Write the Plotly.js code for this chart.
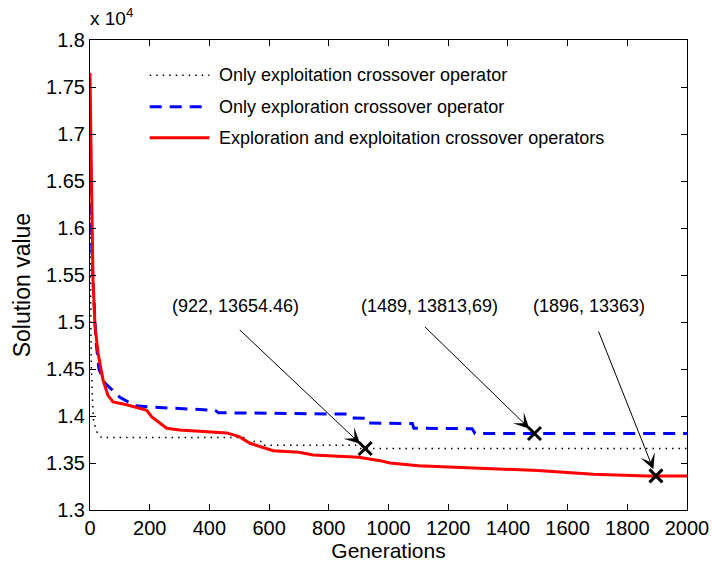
<!DOCTYPE html>
<html>
<head>
<meta charset="utf-8">
<script src="https://cdn.plot.ly/plotly-3.0.1.min.js"></script>
<style>html,body{margin:0;padding:0;background:#fff;}#chart{width:712px;height:568px;}</style>
</head>
<body>
<div id="chart"></div>
<script>
// Only exploitation crossover operator (black dotted)
const exploitGen = [0, 2, 4, 8, 12, 20, 30, 40, 520, 525, 580, 585, 890, 900, 2000];
const exploitVal = [16250, 15000, 14600, 14200, 13950, 13850, 13790, 13770, 13770, 13730, 13730, 13690, 13690, 13655, 13655];

// Only exploration crossover operator (blue dashed)
const exploreGen = [0, 3, 6, 10, 20, 30, 50, 100, 150, 200, 420, 430, 860, 870, 925, 930, 1080, 1085, 1280, 1290, 2000];
const exploreVal = [17330, 16500, 15800, 15450, 14800, 14500, 14350, 14200, 14110, 14096, 14060, 14035, 14020, 13980, 13975, 13925, 13920, 13870, 13865, 13814, 13814];

// Exploration and exploitation crossover operators (red solid)
const bothGen = [0, 2, 5, 10, 17, 27, 44, 60, 77, 123, 190, 207, 257, 300, 458, 500, 536, 614, 700, 748, 900, 972, 1005, 1100, 1296, 1500, 1686, 1866, 2000];
const bothVal = [17650, 17000, 16500, 15450, 14950, 14670, 14380, 14220, 14150, 14120, 14060, 13990, 13870, 13850, 13820, 13780, 13710, 13630, 13615, 13585, 13560, 13525, 13500, 13470, 13447, 13420, 13380, 13363, 13363];

// Highlighted points
const markGen = [922, 1489, 1896];
const markVal = [13654.46, 13813.69, 13363];
const markLabels = ["(922, 13654.46)", "(1489, 13813,69)", "(1896, 13363)"];

const seriesNames = ["Only exploitation crossover operator", "Only exploration crossover operator", "Exploration and exploitation crossover operators"];

const xTicks = [0, 200, 400, 600, 800, 1000, 1200, 1400, 1600, 1800, 2000];
const yTicks = [13000, 13500, 14000, 14500, 15000, 15500, 16000, 16500, 17000, 17500, 18000];
const yTickText = ["1.3", "1.35", "1.4", "1.45", "1.5", "1.55", "1.6", "1.65", "1.7", "1.75", "1.8"];

const FONT = "Liberation Sans, Arial, Helvetica, sans-serif";

const traces = [
  {x: exploitGen, y: exploitVal, mode: "lines", name: seriesNames[0], line: {color: "#000", width: 1.5, dash: "1.5px,5px"}},
  {x: exploreGen, y: exploreVal, mode: "lines", name: seriesNames[1], line: {color: "#0000ff", width: 3, dash: "12px,8px"}},
  {x: bothGen, y: bothVal, mode: "lines", name: seriesNames[2], line: {color: "#ff0000", width: 3}},
  {x: markGen, y: markVal, mode: "markers", name: "marks", marker: {symbol: "x-thin-open", size: 13, color: "#000", line: {width: 3, color: "#000"}}}
];

// manual legend
const legY = [0.925, 0.858, 0.792];
const legDash = ["1.5px,5px", "12px,8px", "solid"];
const legColor = ["#000", "#0000ff", "#ff0000"];
const legWidth = [1.5, 3, 3];
const shapes = [];
const annotations = [];
for (let i = 0; i < 3; i++) {
  shapes.push({type: "line", xref: "paper", yref: "paper", x0: 0.1, x1: 0.2, y0: legY[i], y1: legY[i],
    line: {color: legColor[i], width: legWidth[i], dash: legDash[i]}});
  annotations.push({xref: "paper", yref: "paper", x: 0.213, y: legY[i], xanchor: "left", yanchor: "middle",
    text: seriesNames[i], showarrow: false, font: {family: FONT, size: 18, color: "#000"}});
}
// labels and arrows
const labelX = [486, 1139, 1672];
const arrowOff = [[-127, -120], [-111, -108], [-58, -146]];
for (let i = 0; i < 3; i++) {
  annotations.push({x: labelX[i], y: 15170, xref: "x", yref: "y", text: markLabels[i], showarrow: false,
    font: {family: FONT, size: 18, color: "#000"}});
  annotations.push({x: markGen[i], y: markVal[i], xref: "x", yref: "y", text: "", showarrow: true,
    ax: arrowOff[i][0], ay: arrowOff[i][1], arrowhead: 3, arrowsize: 2.6, arrowwidth: 1, arrowcolor: "#000", standoff: 7});
}
annotations.push({xref: "paper", yref: "paper", x: -0.003, y: 1.02, xanchor: "left", yanchor: "bottom",
  text: "x 10<sup>4</sup>", showarrow: false, font: {family: FONT, size: 19, color: "#000"}});
// y axis title
annotations.push({xref: "paper", yref: "paper", x: -0.114, y: 0.48, xanchor: "center", yanchor: "middle",
  textangle: -90, text: "Solution value", showarrow: false, font: {family: FONT, size: 23, color: "#000"}});

const layout = {
  width: 712, height: 568,
  margin: {l: 90, r: 25, t: 40, b: 58},
  paper_bgcolor: "#fff", plot_bgcolor: "#fff",
  showlegend: false,
  font: {family: FONT, size: 20, color: "#000"},
  xaxis: {range: [0, 2000], tickvals: xTicks, ticks: "inside", ticklen: 6, tickcolor: "#000",
    showline: true, linecolor: "#000", linewidth: 1, mirror: "ticks", showgrid: false, zeroline: false,
    tickfont: {family: FONT, size: 20}, title: {text: "Generations", font: {family: FONT, size: 21}, standoff: 0}},
  yaxis: {range: [13000, 18000], tickvals: yTicks, ticktext: yTickText, ticks: "inside", ticklen: 6, tickcolor: "#000",
    showline: true, linecolor: "#000", linewidth: 1, mirror: "ticks", showgrid: false, zeroline: false,
    tickfont: {family: FONT, size: 20}},
  shapes: shapes,
  annotations: annotations
};

Plotly.newPlot("chart", traces, layout, {displayModeBar: false, staticPlot: true});
</script>
</body>
</html>
